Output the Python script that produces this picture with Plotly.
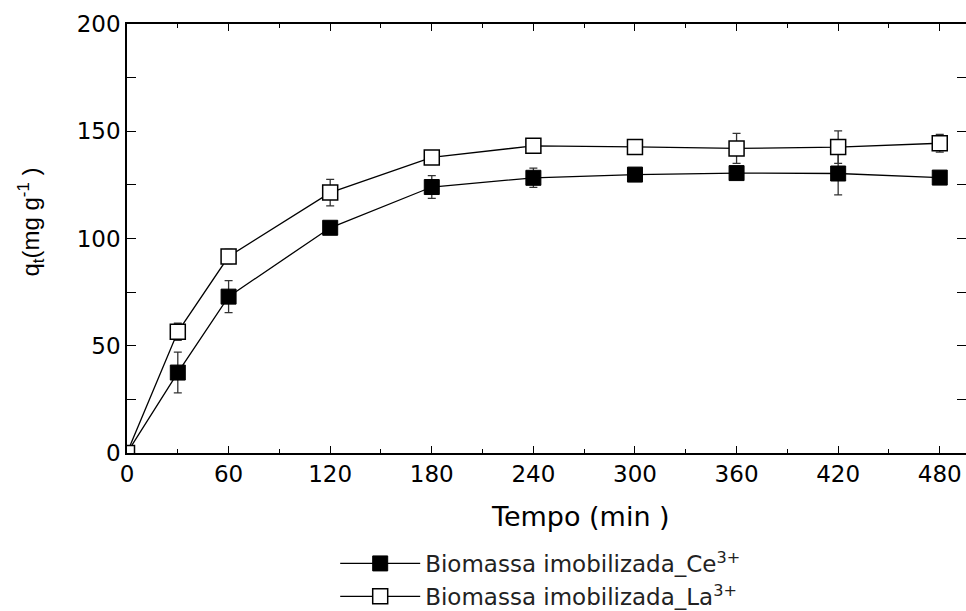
import plotly.graph_objects as go

# ---- data ----
tempo = [0, 30, 60, 120, 180, 240, 300, 360, 420, 480]
ce_q = [0, 37.5, 72.9, 105.0, 124.0, 128.3, 129.8, 130.5, 130.3, 128.4]
ce_err = [0, 9.5, 7.5, 1.5, 5.3, 4.5, 1.0, 1.5, 10.0, 1.0]
la_q = [0, 56.5, 91.6, 121.4, 137.8, 143.2, 142.7, 142.0, 142.6, 144.4]
la_err = [0, 4.0, 3.3, 6.2, 1.5, 1.5, 2.3, 7.0, 7.6, 4.1]

x_ticks = [0, 60, 120, 180, 240, 300, 360, 420, 480]
y_ticks = [0, 50, 100, 150, 200]

name_ce = "Biomassa imobilizada_Ce<sup>3+</sup>"
name_la = "Biomassa imobilizada_La<sup>3+</sup>"

FONT = "DejaVu Sans"

fig = go.Figure()
fig.add_trace(go.Scatter(
    x=tempo, y=ce_q, name=name_ce, mode="lines+markers",
    line=dict(color="black", width=1.3),
    marker=dict(symbol="square", size=15, color="black",
                line=dict(color="black", width=1)),
    error_y=dict(type="data", array=ce_err, visible=True,
                 color="#333333", thickness=1.3, width=4),
))
fig.add_trace(go.Scatter(
    x=tempo, y=la_q, name=name_la, mode="lines+markers",
    line=dict(color="black", width=1.3),
    marker=dict(symbol="square", size=15, color="white",
                line=dict(color="black", width=1.5)),
    error_y=dict(type="data", array=la_err, visible=True,
                 color="#333333", thickness=1.3, width=4),
))

fig.update_layout(
    width=966, height=611,
    margin=dict(l=127, r=0, t=24, b=158, autoexpand=False),
    paper_bgcolor="white", plot_bgcolor="white",
    font=dict(family=FONT, color="black"),
    showlegend=True,
    legend=dict(
        xref="container", yref="container",
        x=0.347, y=0.113, xanchor="left", yanchor="top",
        font=dict(family=FONT, size=23, color="#222222"),
        itemwidth=80, tracegroupgap=0,
        bgcolor="rgba(0,0,0,0)",
    ),
    annotations=[
        dict(text="Tempo (min )", xref="paper", yref="paper",
             x=0.541, y=-0.149, xanchor="center", yanchor="middle",
             showarrow=False, font=dict(family=FONT, size=27, color="black")),
        dict(text="q<sub>t</sub>(mg g<sup>-1</sup> )", xref="paper", yref="paper",
             x=-0.114, y=0.538, xanchor="center", yanchor="middle",
             textangle=-90, showarrow=False,
             font=dict(family="Liberation Sans", size=24, color="black")),
    ],
)

fig.update_xaxes(
    range=[0, 495.5], tickvals=x_ticks, ticktext=[str(v) for v in x_ticks],
    tickangle=0,
    ticks="inside", ticklen=7, tickwidth=1.3, tickcolor="black",
    minor=dict(dtick=30, tick0=0, ticks="inside", ticklen=4, tickwidth=1, tickcolor="black"),
    showline=True, linecolor="black", linewidth=1.5, mirror="ticks",
    showgrid=False, zeroline=False,
    tickfont=dict(family=FONT, size=23, color="black"),
)
fig.update_yaxes(
    range=[0, 200], tickvals=y_ticks, ticktext=[str(v) for v in y_ticks],
    ticks="inside", ticklen=9, tickwidth=1.3, tickcolor="black",
    minor=dict(dtick=25, tick0=0, ticks="inside", ticklen=9, tickwidth=1, tickcolor="black"),
    showline=True, linecolor="black", linewidth=1.5, mirror="ticks",
    showgrid=False, zeroline=False,
    tickfont=dict(family=FONT, size=23, color="black"),
)

fig.write_html("out.html")
